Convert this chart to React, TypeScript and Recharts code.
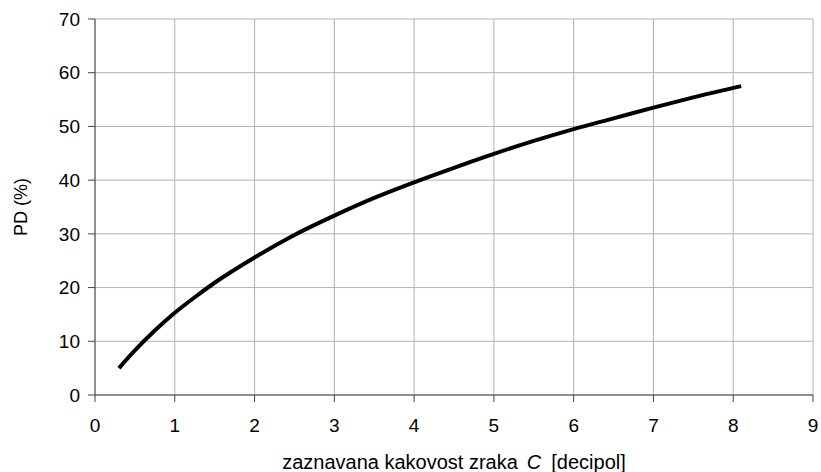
import { LineChart, Line, XAxis, YAxis, CartesianGrid } from 'recharts';

const decipol = [0.3, 0.5, 0.75, 1, 1.25, 1.5, 2, 2.5, 3, 3.5, 4, 4.5, 5, 5.5, 6, 6.5, 7, 7.5, 8.1];
const pd = [5.0, 8.3, 12.0, 15.3, 18.2, 20.9, 25.6, 29.8, 33.4, 36.7, 39.6, 42.3, 44.9, 47.3, 49.5, 51.5, 53.5, 55.4, 57.5];
const xTicks = [0, 1, 2, 3, 4, 5, 6, 7, 8, 9];
const yTicks = [0, 10, 20, 30, 40, 50, 60, 70];

const data = decipol.map((c, i) => ({ c, pd: pd[i] }));

const font = 'Liberation Sans, Arial, sans-serif';

const XLabel = (props: any) => {
  const { x, y, width } = props.viewBox;
  return (
    <text x={x + width / 2} y={y + 74} textAnchor="middle" fontSize={20} fill="#000" fontFamily={font}>
      zaznavana kakovost zraka
      <tspan dx={9} fontStyle="italic">C</tspan>
      <tspan dx={10}>[decipol]</tspan>
    </text>
  );
};

const YLabel = (props: any) => {
  const { y, height } = props.viewBox;
  const cy = y + height / 2;
  return (
    <text x={27} y={cy} transform={`rotate(-90 27 ${cy})`} textAnchor="middle" fontSize={18} fill="#000" fontFamily={font}>
      PD (%)
    </text>
  );
};

export default function App() {
  return (
    <div style={{ width: 821, height: 472, background: '#fff' }}>
      <style>{'body{margin:0}'}</style>
      <LineChart width={821} height={472} data={data} margin={{ top: 19, right: 8, bottom: 0, left: 0 }}>
        <CartesianGrid stroke="#b0b0b0" strokeWidth={1} />
        <XAxis
          type="number"
          dataKey="c"
          domain={[0, 9]}
          ticks={xTicks}
          interval={0}
          height={77}
          stroke="#444"
          tickSize={7}
          tickMargin={17}
          tick={{ fill: '#000', fontSize: 19, fontFamily: font }}
          label={{ content: XLabel }}
        />
        <YAxis
          type="number"
          domain={[0, 70]}
          ticks={yTicks}
          interval={0}
          width={95}
          stroke="#444"
          tickSize={7}
          tickMargin={8}
          tick={{ fill: '#000', fontSize: 19, fontFamily: font }}
          label={{ content: YLabel }}
        />
        <Line
          type="monotone"
          dataKey="pd"
          stroke="#000"
          strokeWidth={4}
          dot={false}
          isAnimationActive={false}
        />
      </LineChart>
    </div>
  );
}
